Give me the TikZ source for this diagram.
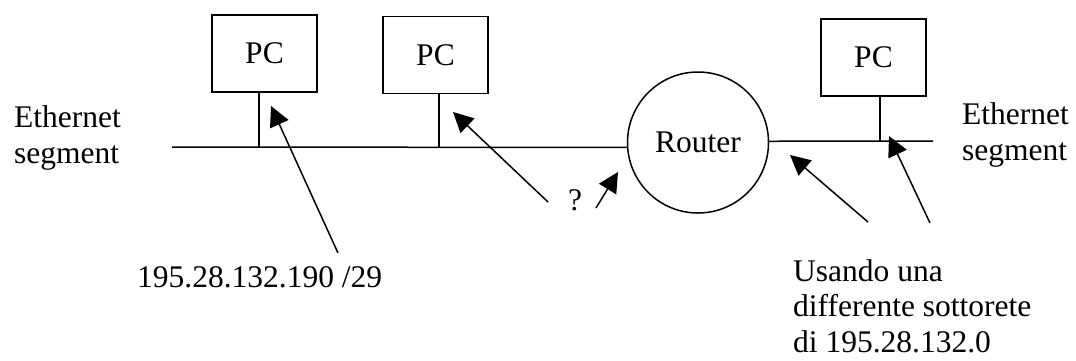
\documentclass[tikz,border=0pt]{standalone}
\usepackage{fontspec}
\setmainfont{Liberation Serif}
\usetikzlibrary{arrows.meta}

\tikzset{
	pcbox/.style = {draw, line width = 1.5pt, minimum width = 105pt, minimum height = 77pt, inner sep = 0pt},
	routernode/.style = {draw, circle, line width = 1.5pt, minimum size = 141pt, inner sep = 0pt},
	txt/.style = {inner sep = 0pt, align = left, font = \fontsize{31.5}{35.5}\selectfont},
	wire/.style = {line width = 1.5pt},
	pointer/.style = {line width = 1.5pt, -{Triangle[length = 20pt, width = 20pt]}}
}

\begin{document}
\begin{tikzpicture}[x = 1pt, y = -1pt]
	 \useasboundingbox (0, 0) rectangle (1076, 360);
	 
	 \node[pcbox, txt, align = center] (pc1) at (264.5, 53.5) {PC};
	 \node[pcbox, txt, align = center] (pc2) at (435.5, 55) {PC};
	 \node[pcbox, txt, align = center] (pc3) at (873.5, 57.5) {PC};
	 
	 \node[routernode, txt, align = center] (router) at (698, 142.5) {Router};
	 
	 \coordinate (busl) at (172, 147);
	 \coordinate (busr) at (933, 141);
	 \draw[wire] (busl) -- (router.184);
	 \draw[wire] (router.1) -- (busr);
	 
	 \draw[wire] ([xshift = -5.5pt] pc1.south) -- ([xshift = -5.5pt] pc1.south |- busl);
	 \draw[wire] ([xshift = 3.5pt] pc2.south) -- ([xshift = 3.5pt] pc2.south |- busl);
	 \draw[wire] ([xshift = 6.5pt] pc3.south) -- ([xshift = 6.5pt] pc3.south |- busr);
	 
	 % base of a two-line node is the last line
	 \node[txt, anchor = base west] (ethl) at (14, 163) {Ethernet\\segment};
	 \node[txt, anchor = base west] (ethr) at (962, 160) {Ethernet\\segment};
	 \node[txt, anchor = base west] (addr) at (137, 287) {195.28.132.190 /29};
	 \node[txt, anchor = base] (quest) at (575, 210) {?};
	 \node[txt, anchor = base west] (note) at (793, 352) {Usando una\\differente sottorete\\di 195.28.132.0};
	 
	 % arrows
	 \coordinate (tip1) at (271, 106);
	 \coordinate (tail1) at (338, 253);
	 \coordinate (tip2) at (453, 112);
	 \coordinate (tail2) at (548, 202);
	 \coordinate (tip3) at (618, 172);
	 \coordinate (tail3) at (596, 208);
	 \coordinate (tip4) at (790, 155);
	 \coordinate (tail4) at (868, 222);
	 \coordinate (tip5) at (889, 136);
	 \coordinate (tail5) at (930, 223);
	 
	 \draw[pointer] (tail1) -- (tip1);
	 \draw[pointer] (tail2) -- (tip2);
	 \draw[pointer] (tail3) -- (tip3);
	 \draw[pointer] (tail4) -- (tip4);
	 \draw[pointer] (tail5) -- (tip5);
\end{tikzpicture}
\end{document}
